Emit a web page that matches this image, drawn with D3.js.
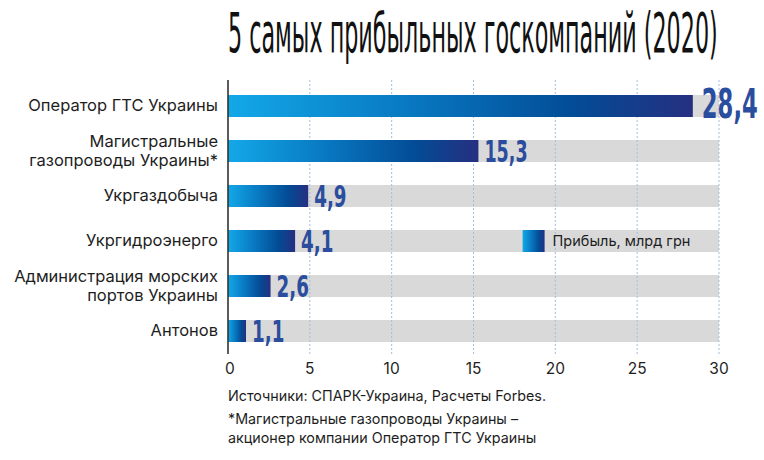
<!DOCTYPE html>
<html>
<head>
<meta charset="utf-8">
<script src="https://cdn.jsdelivr.net/npm/d3@7"></script>
<style>
  body { margin: 0; background: #fff; }
  svg { display: block; }
  .cat, .tick-lbl, .note, .legend-lbl { font-family: Inter, "Noto Sans", sans-serif; fill: #1e1e1e; }
</style>
</head>
<body>
<div id="chart"></div>
<script>
// Data
var companies = [
    ["Оператор ГТС Украины"],
    ["Магистральные", "газопроводы Украины*"],
    ["Укргаздобыча"],
    ["Укргидроэнерго"],
    ["Администрация морских", "портов Украины"],
    ["Антонов"]
];
var profits = [28.4, 15.3, 4.9, 4.1, 2.6, 1.1];
var xTicks = [0, 5, 10, 15, 20, 25, 30];
var legendLabel = "Прибыль, млрд грн";
var title = "5 самых прибыльных госкомпаний (2020)";
var notes = [
    "Источники: СПАРК-Украина, Расчеты Forbes.",
    "*Магистральные газопроводы Украины –",
    "акционер компании Оператор ГТС Украины"
];

var width = 764, height = 460;
var condensed = "'Liberation Sans Narrow', 'DejaVu Sans Condensed', sans-serif";

var svg = d3.select("#chart").append("svg")
    .attr("width", width)
    .attr("height", height);

// gradient for bars and the legend box
var grad = svg.append("defs").append("linearGradient")
    .attr("id", "barGrad");
grad.append("stop").attr("offset", "0%").attr("stop-color", "#13a8e8");
grad.append("stop").attr("offset", "40%").attr("stop-color", "#0877c0");
grad.append("stop").attr("offset", "75%").attr("stop-color", "#034b95");
grad.append("stop").attr("offset", "100%").attr("stop-color", "#262f80");

var rows = companies.map((d, i) => ({ name: d, key: d.join(" "), value: profits[i] }));

var x = d3.scaleLinear().domain([0, 30]).range([228, 719]);
var y = d3.scaleBand()
    .domain(rows.map(d => d.key))
    .range([83.5, 353.5])
    .paddingInner(23 / 45)
    .paddingOuter(0.2555);

// squeeze a text horizontally so it fits a wanted width (fake condensed font)
function squeeze(sel, px, py, wanted) {
    var natural = sel.node().getComputedTextLength();
    sel.attr("transform", "translate(" + px + "," + py + ") scale(" + (wanted / natural) + ",1)");
}

// Title
var titleText = svg.append("text")
    .style("font-family", condensed)
    .style("font-size", "56px")
    .style("fill", "#111")
    .text(title);
squeeze(titleText, 228, 52, 490);

// gray background bars
svg.selectAll(".bg")
    .data(rows)
    .join("rect")
    .attr("class", "bg")
    .attr("x", x(0))
    .attr("y", d => y(d.key))
    .attr("width", x(30) - x(0))
    .attr("height", y.bandwidth())
    .attr("fill", "#d9d9da");

// dotted grid lines
svg.selectAll(".grid")
    .data(xTicks.filter(t => t > 0))
    .join("line")
    .attr("class", "grid")
    .attr("x1", d => x(d)).attr("x2", d => x(d))
    .attr("y1", 80).attr("y2", 354)
    .attr("stroke", "#9dbfdf")
    .attr("stroke-width", 1)
    .attr("stroke-dasharray", "2,2");

// profit bars
svg.selectAll(".bar")
    .data(rows)
    .join("rect")
    .attr("class", "bar")
    .attr("x", x(0))
    .attr("y", d => y(d.key))
    .attr("width", d => x(d.value) - x(0))
    .attr("height", y.bandwidth())
    .attr("fill", "url(#barGrad)");

// value labels - condensed bold, width set per character
function labelWidth(s, w) {
    var n = 0;
    s.split("").forEach(c => { n += (c === "," ? 0.5 : 1); });
    return n * w;
}
svg.selectAll(".val")
    .data(rows)
    .join("text")
    .attr("class", "val")
    .style("font-family", condensed)
    .style("font-weight", "bold")
    .style("font-size", (d, i) => i === 0 ? "40px" : "30px")
    .style("fill", "#2b4d9d")
    .text(d => d3.format(".1f")(d.value).replace(".", ","))
    .each(function (d, i) {
        var big = i === 0;
        squeeze(d3.select(this),
            x(d.value) + (big ? 9 : 6),
            y(d.key) + y.bandwidth() + (big ? 1 : 0),
            labelWidth(d3.format(".1f")(d.value), big ? 14 : 10.8));
    });

// vertical axis line
svg.append("line")
    .attr("x1", x(0)).attr("x2", x(0))
    .attr("y1", 80).attr("y2", 354)
    .attr("stroke", "#333")
    .attr("stroke-width", 1.6);

// category labels, right aligned
var cats = svg.selectAll(".cat")
    .data(rows)
    .join("text")
    .attr("class", "cat")
    .attr("text-anchor", "end")
    .style("font-size", "16.5px");

cats.selectAll("tspan")
    .data(d => d.name.map((line, j) => ({ line: line, j: j, n: d.name.length, key: d.key })))
    .join("tspan")
    .attr("x", 218)
    .attr("y", function (d) {
        var c = y(d.key) + y.bandwidth() / 2;
        if (d.n === 1) return c + 5;
        return d.j === 0 ? c - 4 : c + 15;
    })
    .text(d => d.line);

// x tick labels
svg.selectAll(".tick-lbl")
    .data(xTicks)
    .join("text")
    .attr("class", "tick-lbl")
    .attr("x", d => x(d) + (d === 0 ? 2 : 0))
    .attr("y", 374)
    .attr("text-anchor", "middle")
    .style("font-size", "15.5px")
    .text(d => d);

// legend inside the 4th row
var legRow = rows[3];
svg.append("rect")
    .attr("x", x(18))
    .attr("y", y(legRow.key))
    .attr("width", 22)
    .attr("height", y.bandwidth())
    .attr("fill", "url(#barGrad)");
svg.append("text")
    .attr("class", "legend-lbl")
    .attr("x", x(18) + 30)
    .attr("y", y(legRow.key) + y.bandwidth() / 2 + 5)
    .style("font-size", "14.5px")
    .text(legendLabel);

// footnotes
svg.selectAll(".note")
    .data(notes)
    .join("text")
    .attr("class", "note")
    .attr("x", 228)
    .attr("y", (d, i) => [401, 424, 443][i])
    .style("font-size", "14.3px")
    .text(d => d);
</script>
</body>
</html>
